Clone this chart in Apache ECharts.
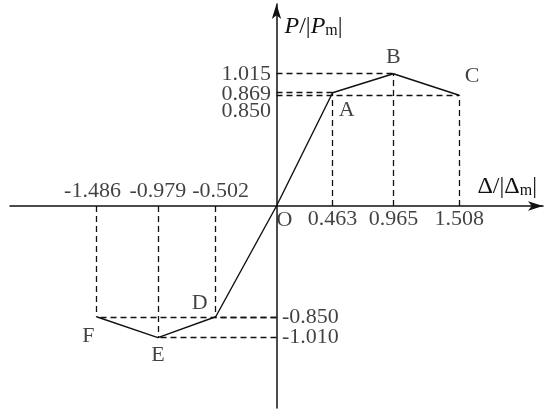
<!DOCTYPE html>
<html>
<head>
<meta charset="utf-8">
<script src="https://cdn.jsdelivr.net/npm/echarts@6/dist/echarts.min.js"></script>
<style>
html,body{margin:0;padding:0;background:#fff;}
#skeleton{width:550px;height:413px;}
</style>
</head>
<body>
<div id="skeleton"></div>
<script>
// skeleton curve feature points
var pointNames = ['F', 'E', 'D', 'O', 'A', 'B', 'C'];
var dispRatio = [-1.486, -0.979, -0.502, 0, 0.463, 0.965, 1.508];
var loadRatio = [-0.850, -1.010, -0.850, 0, 0.869, 1.015, 0.850];

// values written along the axes
var xTicks = [-1.486, -0.979, -0.502, 0.463, 0.965, 1.508];
var yTicks = [1.015, 0.869, 0.850, -0.850, -1.010];

var sk = {
	font : '"Liberation Serif", "Times New Roman", serif',
	color : '#111',
	fontSize : 22,
	nameSize : 24,

	//label offsets, px
	pointOffset : {F:[-8,19], E:[0,18], D:[-16,-14], O:[8,14], A:[14,17], B:[0,-17], C:[13,-19]},
	xTickShift : {'-1.486':-4, '-0.979':0, '-0.502':5},
	yTickShift : {'0.869':1, '0.850':16},

	text : function (size, italic){
		return {fontFamily: sk.font, fontSize: size, color: sk.color, fontStyle: italic ? 'italic' : 'normal'};
	},

	//dashed guides from each point to both axes
	guides : function (){
		var lines = [];
		for (var i = 0; i < pointNames.length; i++) {
			if (pointNames[i] == 'O') continue;
			var x = dispRatio[i], y = loadRatio[i];
			lines.push([{coord:[x, 0]}, {coord:[x, y]}]);
			lines.push([{coord:[0, y]}, {coord:[x, y]}]);
		}
		return lines;
	},

	pointLabels : function (){
		var data = [];
		for (var i = 0; i < pointNames.length; i++) {
			data.push({
				name : pointNames[i],
				value : [dispRatio[i], loadRatio[i]],
				label : {offset: sk.pointOffset[pointNames[i]]}
			});
		}
		return data;
	},

	tickLabels : function (){
		var data = [];
		xTicks.forEach(function (v){
			var s = v.toFixed(3);
			data.push({
				name : s,
				value : [v, 0],
				label : {position:'inside', offset: v > 0 ? [0,13] : [sk.xTickShift[s] || 0, -15]}
			});
		});
		yTicks.forEach(function (v){
			var s = v.toFixed(3);
			data.push({
				name : s,
				value : [0, v],
				label : {position: v > 0 ? 'left' : 'right', distance:5, offset:[0, sk.yTickShift[s] || 0]}
			});
		});
		return data;
	},

	options : function (){
		var axisLine = {
			onZero : true,
			symbol : ['none', 'arrow'],
			symbolSize : [7, 15],
			lineStyle : {color: sk.color, width: 1.5}
		};
		var sub = sk.text(16);
		sub.padding = [9, 0, 0, 0];
		return {
			animation : false,
			backgroundColor : '#fff',
			grid : {left:10, right:7, top:4, bottom:5, containLabel:false, outerBoundsMode:'none'},
			xAxis : {
				type : 'value',
				min : -2.2,
				max : 2.2,
				axisLine : axisLine,
				axisTick : {show:false},
				axisLabel : {show:false},
				splitLine : {show:false},
				name : '{n|Δ}{n|/|}{n|Δ}{s|m}{n||}',
				nameLocation : 'end',
				nameGap : -6,
				nameTextStyle : {
					fontFamily: sk.font, fontSize: sk.nameSize, color: sk.color,
					align:'right', verticalAlign:'bottom', padding:[0,0,7,0],
					rich : {n: sk.text(sk.nameSize), s: sub}
				}
			},
			yAxis : {
				type : 'value',
				min : -1.55,
				max : 1.55,
				axisLine : axisLine,
				axisTick : {show:false},
				axisLabel : {show:false},
				splitLine : {show:false},
				name : '{i|P}{n|/|}{i|P}{s|m}{n||}',
				nameLocation : 'end',
				nameGap : -10,
				nameTextStyle : {
					fontFamily: sk.font, fontSize: sk.nameSize, color: sk.color,
					align:'left', verticalAlign:'top', padding:[0,0,0,8],
					rich : {i: sk.text(sk.nameSize, true), n: sk.text(sk.nameSize), s: sub}
				}
			},
			series : [{
				type : 'line',
				data : dispRatio.map(function (x, i){ return [x, loadRatio[i]]; }),
				symbol : 'none',
				lineStyle : {color: sk.color, width: 1.4},
				markLine : {
					silent : true,
					symbol : ['none', 'none'],
					label : {show:false},
					lineStyle : {color: sk.color, width: 1.3, type: [6, 4]},
					data : sk.guides()
				},
				z : 3
			}, {
				type : 'scatter',
				data : sk.pointLabels(),
				symbolSize : 1,
				itemStyle : {color:'rgba(0,0,0,0)'},
				label : {show:true, position:'inside', formatter:'{b}', fontFamily: sk.font, fontSize: sk.fontSize, color: sk.color},
				silent : true
			}, {
				type : 'scatter',
				data : sk.tickLabels(),
				symbolSize : 1,
				itemStyle : {color:'rgba(0,0,0,0)'},
				label : {show:true, formatter:'{b}', fontFamily: sk.font, fontSize: sk.fontSize, color: sk.color},
				silent : true
			}]
		};
	},

	init : function (){
		var chart = echarts.init(document.getElementById('skeleton'));
		chart.setOption(sk.options());
	}
};

sk.init();
</script>
</body>
</html>
